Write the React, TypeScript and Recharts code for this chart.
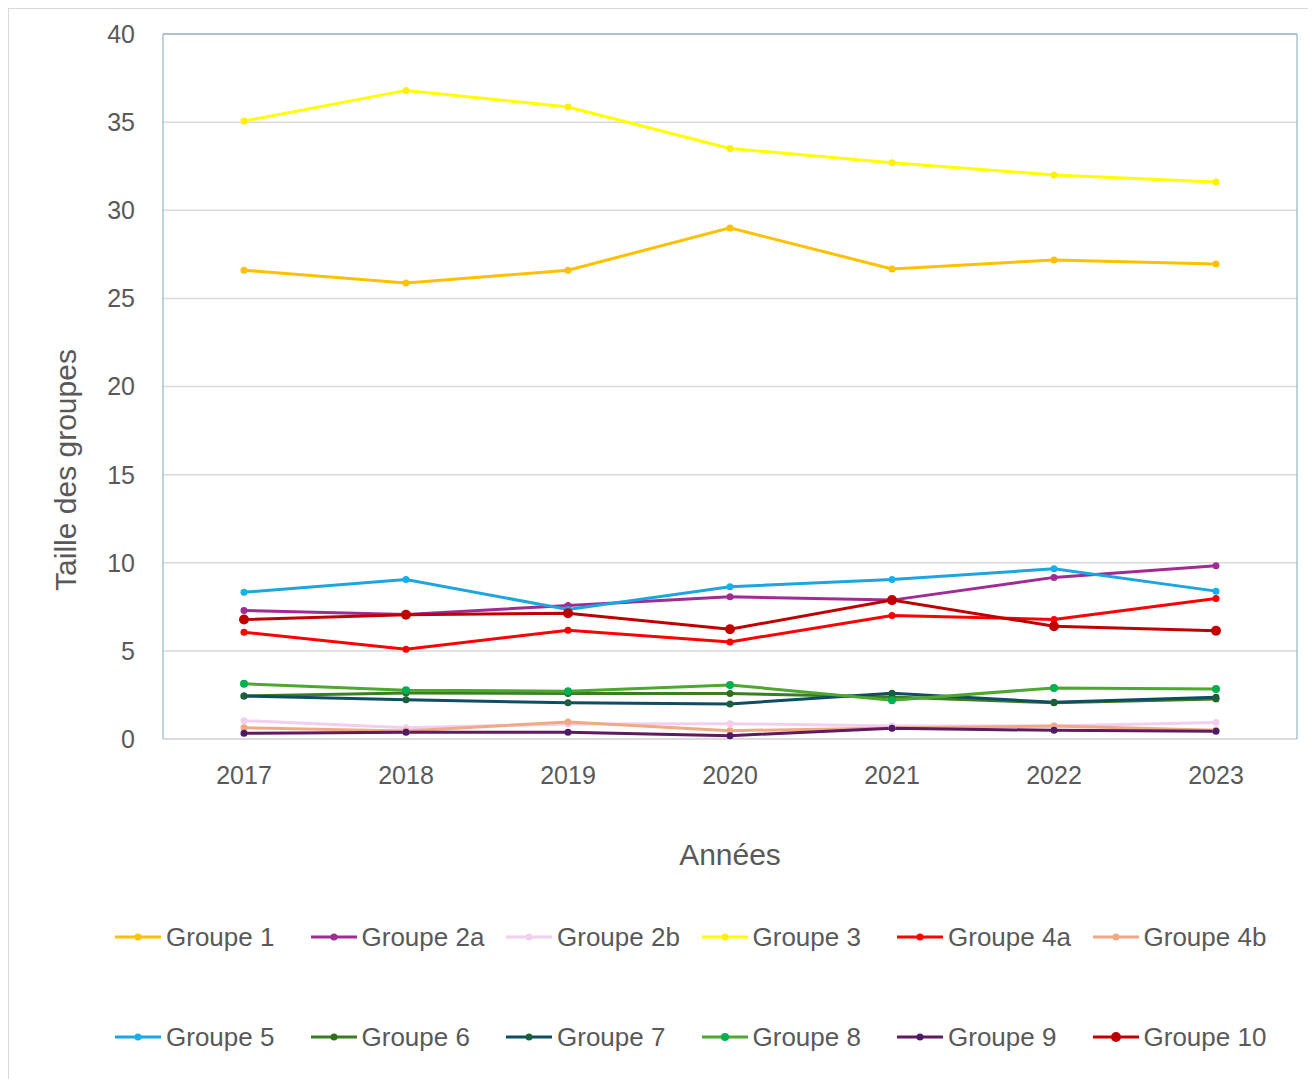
import { LineChart, Line, XAxis, YAxis, CartesianGrid, Legend, Label, ReferenceLine } from "recharts";

const years = ["2017", "2018", "2019", "2020", "2021", "2022", "2023"];

const groupe1 = [26.6, 25.87, 26.6, 29.0, 26.67, 27.18, 26.95];
const groupe2a = [7.29, 7.06, 7.58, 8.07, 7.88, 9.17, 9.83];
const groupe2b = [1.04, 0.64, 0.85, 0.87, 0.74, 0.74, 0.93];
const groupe3 = [35.06, 36.8, 35.86, 33.5, 32.7, 32.0, 31.6];
const groupe4a = [6.06, 5.09, 6.17, 5.51, 7.01, 6.78, 7.97];
const groupe4b = [0.64, 0.45, 0.97, 0.47, 0.63, 0.74, 0.5];
const groupe5 = [8.33, 9.05, 7.35, 8.64, 9.05, 9.66, 8.39];
const groupe6 = [2.44, 2.61, 2.58, 2.58, 2.39, 2.05, 2.27];
const groupe7 = [2.44, 2.22, 2.05, 1.99, 2.59, 2.08, 2.37];
const groupe8 = [3.13, 2.77, 2.71, 3.07, 2.2, 2.9, 2.84];
const groupe9 = [0.32, 0.38, 0.38, 0.19, 0.61, 0.49, 0.44];
const groupe10 = [6.78, 7.05, 7.14, 6.23, 7.88, 6.4, 6.14];

const yTicks = [0, 5, 10, 15, 20, 25, 30, 35, 40];

const series = [
  { name: "Groupe 1", values: groupe1, color: "#FFC000", dot: "#FFC000", r: 3.5 },
  { name: "Groupe 2a", values: groupe2a, color: "#A02B93", dot: "#A02B93", r: 3.5 },
  { name: "Groupe 2b", values: groupe2b, color: "#F2CEEF", dot: "#F2CEEF", r: 3.5 },
  { name: "Groupe 3", values: groupe3, color: "#FFFF00", dot: "#FFF000", r: 3.5 },
  { name: "Groupe 4a", values: groupe4a, color: "#FF0000", dot: "#FF0000", r: 3.5 },
  { name: "Groupe 4b", values: groupe4b, color: "#F1A983", dot: "#F1A983", r: 3.5 },
  { name: "Groupe 5", values: groupe5, color: "#1CA5E0", dot: "#12B0EE", r: 3.5 },
  { name: "Groupe 6", values: groupe6, color: "#3B7D23", dot: "#2F6E1E", r: 3.5 },
  { name: "Groupe 7", values: groupe7, color: "#0E4D64", dot: "#1A5E3A", r: 3.5 },
  { name: "Groupe 8", values: groupe8, color: "#4EA72E", dot: "#00B050", r: 4 },
  { name: "Groupe 9", values: groupe9, color: "#601A5E", dot: "#4E1A66", r: 3.5 },
  { name: "Groupe 10", values: groupe10, color: "#C00000", dot: "#C00000", r: 5 },
];

const rows = years.map((year, i) => {
  const row: Record<string, string | number> = { year };
  series.forEach((s) => {
    row[s.name] = s.values[i];
  });
  return row;
});

const FONT = "'Liberation Sans', Arial, sans-serif";
const TEXT = "#595959";
const FRAME = "#7FA7BF";

function LegendBox() {
  const lines = [series.slice(0, 6), series.slice(6)];
  return (
    <div style={{ height: 200, paddingTop: 8, boxSizing: "border-box", fontFamily: FONT }}>
      {lines.map((line, li) => (
        <div key={li} style={{ display: "flex", alignItems: "center", height: 100, paddingLeft: 107 }}>
          {line.map((s) => (
            <div key={s.name} style={{ width: 195.5, display: "flex", alignItems: "center", flexShrink: 0 }}>
              <svg width={46} height={12} style={{ marginRight: 5 }}>
                <line x1={0} y1={6} x2={46} y2={6} stroke={s.color} strokeWidth={3} />
                <circle cx={23} cy={6} r={s.r} fill={s.dot} />
              </svg>
              <span style={{ fontSize: 26, color: TEXT, whiteSpace: "nowrap" }}>{s.name}</span>
            </div>
          ))}
        </div>
      ))}
    </div>
  );
}

export default function App() {
  return (
    <div style={{ width: 1302, height: 1080, boxShadow: "inset 0 0 0 1px #d9d9d9", fontFamily: FONT }}>
      <LineChart width={1300} height={1071} data={rows} margin={{ top: 26, right: 10, left: 20, bottom: 0 }}>
        <CartesianGrid vertical={false} stroke="#d9d9d9" strokeWidth={1.5} />
        <XAxis
          dataKey="year"
          height={140}
          padding={{ left: 81, right: 81 }}
          tickLine={false}
          tickSize={0}
          tickMargin={27}
          axisLine={{ stroke: "#d9d9d9", strokeWidth: 1.5 }}
          tick={{ fill: TEXT, fontSize: 25, fontFamily: FONT }}
        >
          <Label value="Années" position="insideBottom" offset={14} fill={TEXT} fontSize={30} fontFamily={FONT} />
        </XAxis>
        <YAxis
          width={135}
          domain={[0, 40]}
          ticks={yTicks}
          tickLine={false}
          tickSize={0}
          tickMargin={28}
          axisLine={{ stroke: FRAME }}
          tick={{ fill: TEXT, fontSize: 25, fontFamily: FONT }}
        >
          <Label
            content={() => (
              <text
                x={57}
                y={462}
                transform="rotate(-90 57 462)"
                textAnchor="middle"
                dominantBaseline="central"
                fill={TEXT}
                fontSize={30}
                fontFamily={FONT}
              >
                Taille des groupes
              </text>
            )}
          />
        </YAxis>
        <YAxis
          yAxisId="right"
          orientation="right"
          width={1}
          domain={[0, 40]}
          ticks={yTicks}
          tick={false}
          tickLine={false}
          tickSize={0}
          axisLine={{ stroke: FRAME }}
        />
        <ReferenceLine y={40} stroke={FRAME} />
        {series.map((s) => (
          <Line
            key={s.name}
            type="linear"
            dataKey={s.name}
            stroke={s.color}
            strokeWidth={3}
            dot={{ r: s.r, fill: s.dot, stroke: "none" }}
            activeDot={false}
            isAnimationActive={false}
          />
        ))}
        <Legend verticalAlign="bottom" wrapperStyle={{ left: 0, width: 1300, bottom: 0 }} content={() => <LegendBox />} />
      </LineChart>
    </div>
  );
}
